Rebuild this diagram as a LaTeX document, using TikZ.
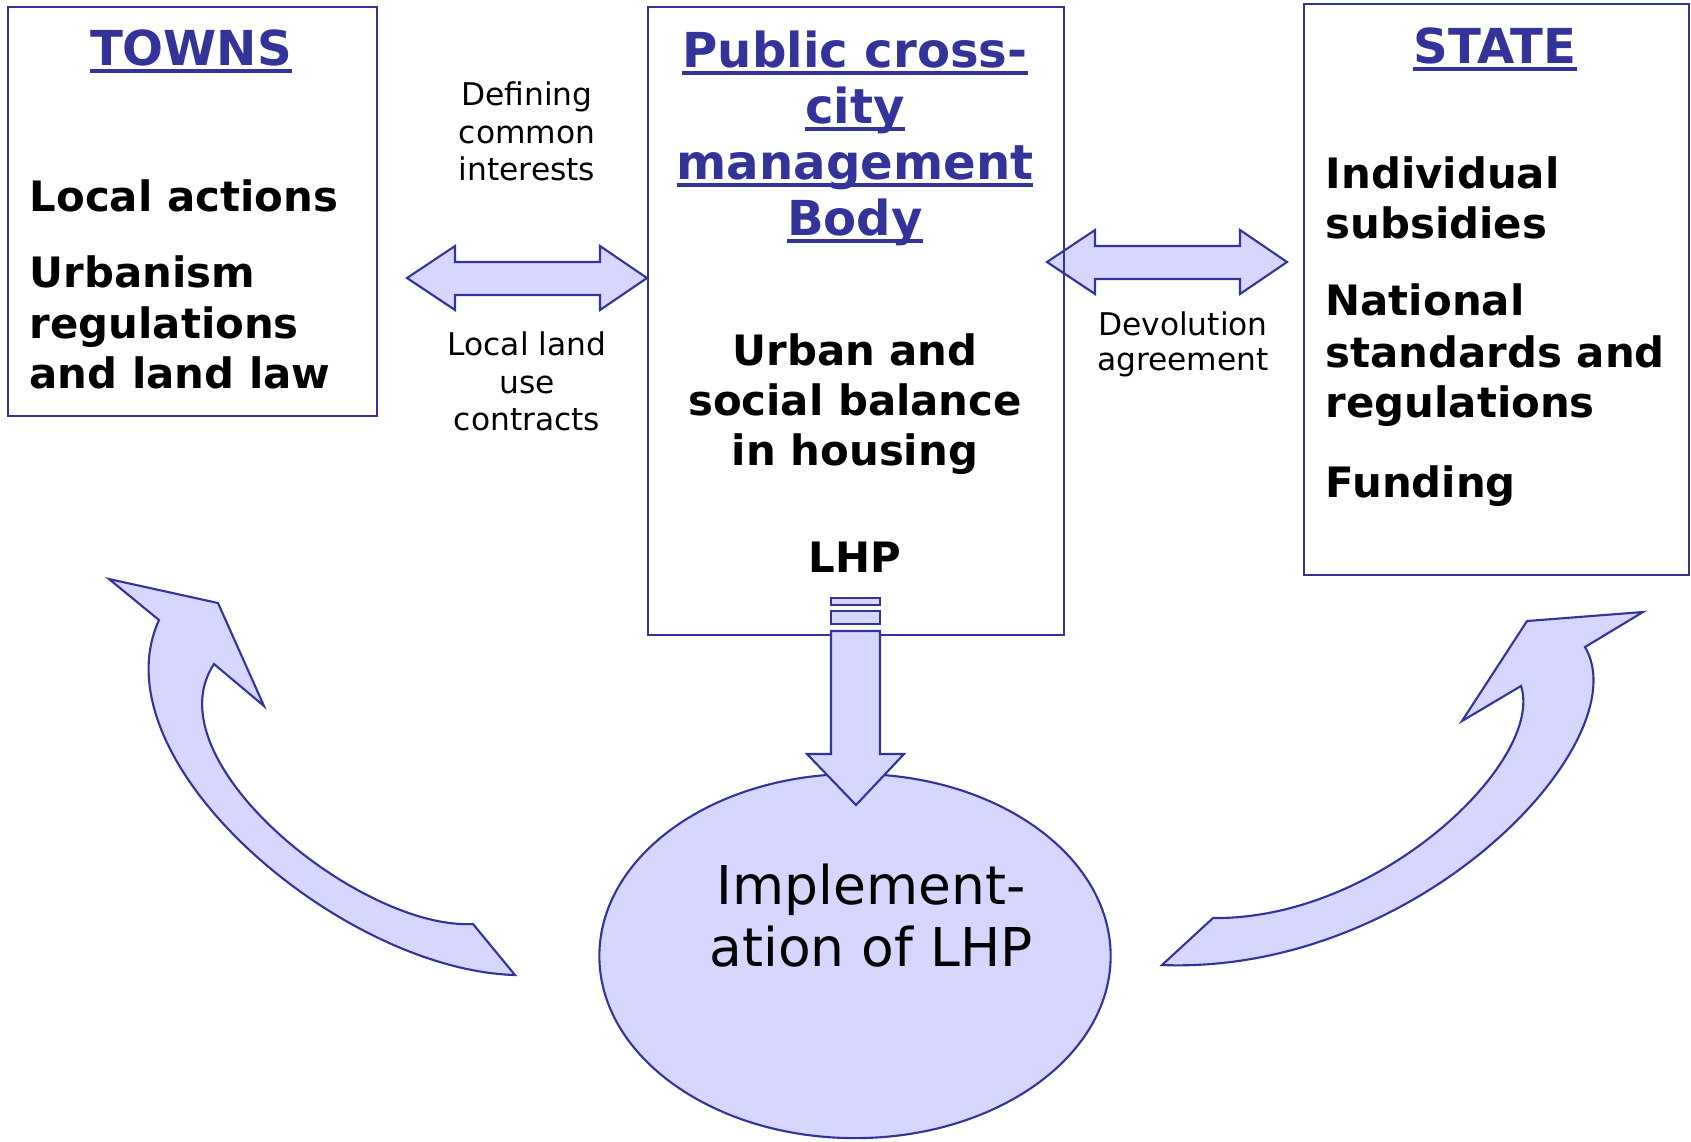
\documentclass[tikz,border=0pt]{standalone}
\usepackage{fontspec}
\setmainfont{DejaVu Sans}
\usepackage{tikz}
\usetikzlibrary{shapes.geometric}
\definecolor{lhpblue}{RGB}{51,51,153}
\definecolor{lhpfill}{RGB}{214,214,255}
% underlined heading line
\newcommand{\undl}[1]{\setbox0\hbox{#1}\rlap{\raisebox{-2.2pt}{\rule{\wd0}{1.2pt}}}\box0}

\begin{document}
\begin{tikzpicture}[x=0.01cm, y=-0.01cm,
  panel/.style={draw=lhpblue, line width=0.6pt, inner sep=0pt, anchor=north west},
  blockarrow/.style={draw=lhpblue, fill=lhpfill, line width=0.6pt, line join=miter},
  heading/.style={text=lhpblue, font=\fontsize{13.7}{16}\selectfont\bfseries, anchor=base, inner sep=0pt},
  bodytext/.style={font=\fontsize{11.9}{14}\selectfont\bfseries, anchor=base west, inner sep=0pt},
  smalltext/.style={font=\fontsize{8.9}{10}\selectfont, anchor=base, inner sep=0pt},
  bigtext/.style={font=\fontsize{15.2}{18}\selectfont, anchor=base, inner sep=0pt}]
\useasboundingbox (0,0) rectangle (1691,1141);

% devolution arrow sits under the body box
\coordinate (devl) at (1047,262);
\draw[blockarrow] (devl) -- ++(48,-32) -- ++(0,16) -- ++(145,0) -- ++(0,-16)
  -- ++(47,32) -- ++(-47,32) -- ++(0,-15) -- ++(-145,0) -- ++(0,15) -- cycle;

\node[panel, minimum width=3.69cm, minimum height=4.09cm] (towns) at (7,6) {};
\node[panel, minimum width=4.16cm, minimum height=6.28cm] (body) at (647,6) {};
\node[panel, minimum width=3.85cm, minimum height=5.71cm] (state) at (1303,3) {};

\node[ellipse, draw=lhpblue, fill=lhpfill, line width=0.6pt, inner sep=0pt,
  minimum width=5.11cm, minimum height=3.64cm] (impl) at (855,956) {};

\coordinate (defl) at (407,278);
\draw[blockarrow] (defl) -- ++(48,-32) -- ++(0,16) -- ++(145,0) -- ++(0,-16)
  -- (body.west |- defl) -- ++(-47,32) -- ++(0,-15) -- ++(-145,0) -- ++(0,15) -- cycle;

% LHP down to implementation
\draw[blockarrow] (831,598) rectangle (880,605);
\draw[blockarrow] (831,611) rectangle (880,624);
\draw[blockarrow] (831,631) -- (880,631) -- (880,754) -- (904,754) -- (856,805)
  -- (807,754) -- (831,754) -- cycle;

% feedback arrows
\draw[blockarrow] (109,579) -- (218,603) -- (264,706) -- (214,664)
  .. controls (150,760) and (360,930) .. (473,924) -- (515,975)
  .. controls (340,970) and (95,760) .. (159,620) -- cycle;
\draw[blockarrow] (1643,612) -- (1585,647)
  .. controls (1640,740) and (1420,975) .. (1162,965) -- (1213,918)
  .. controls (1380,920) and (1545,760) .. (1521,686) -- (1462,721) -- (1527,621) -- cycle;

\node[heading] (towns-title) at (191,65) {\undl{TOWNS}};
\node[heading] (state-title) at (1495,63) {\undl{STATE}};
\foreach \n/\y/\t in {1/67/Public cross-, 2/123/city, 3/179/management, 4/235/Body}
  \node[heading] (body-title-\n) at (855,\y) {\undl{\t}};

\foreach \n/\y/\t in {1/211/Local actions, 2/287/Urbanism, 3/338/regulations, 4/388/and land law}
  \node[bodytext] (towns-\n) at (29,\y) {\t};
\foreach \n/\y/\t in {1/365/Urban and, 2/415/social balance, 3/465/in housing, 4/572/LHP}
  \node[bodytext, anchor=base] (body-\n) at (855,\y) {\t};
\foreach \n/\y/\t in {1/188/Individual, 2/238/subsidies, 3/315/National, 4/367/standards and, 5/417/regulations, 6/497/Funding}
  \node[bodytext] (state-\n) at (1325,\y) {\t};

\foreach \n/\y/\t in {1/105/Defining, 2/143/common, 3/180/interests}
  \node[smalltext] (common-\n) at (527,\y) {\t};
\foreach \n/\y/\t in {1/355/Local land, 2/393/use, 3/430/contracts}
  \node[smalltext] (contract-\n) at (527,\y) {\t};
\foreach \n/\y/\t in {1/335/Devolution, 2/370/agreement}
  \node[smalltext] (devol-\n) at (1183,\y) {\t};

\node[bigtext] (impl-1) at (871,904) {Implement-};
\node[bigtext] (impl-2) at (871,966) {ation of LHP};
\end{tikzpicture}
\end{document}
